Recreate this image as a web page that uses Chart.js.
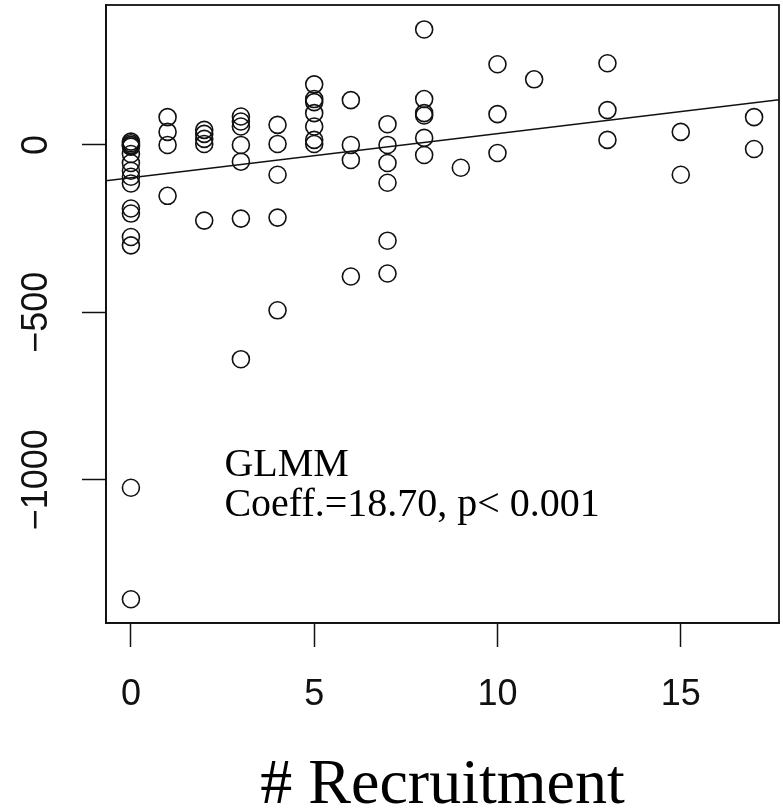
<!DOCTYPE html>
<html>
<head>
<meta charset="utf-8">
<script src="https://cdn.jsdelivr.net/npm/chart.js@4.4.0/dist/chart.umd.min.js"></script>
<style>
  html, body { margin: 0; padding: 0; background: #fff; }
</style>
</head>
<body>
<canvas id="recruitChart" width="783" height="810"></canvas>
<script>
// Recruitment count vs. response, open circles + fitted line (R base-graphics look)

const recruitX = [
  0, 0, 0, 0, 0, 0, 0, 0, 0, 0, 0, 0, 0, 0, 0, 0,
  1, 1, 1, 1,
  2, 2, 2, 2, 2,
  3, 3, 3, 3, 3, 3, 3,
  4, 4, 4, 4, 4,
  5, 5, 5, 5, 5, 5, 5,
  6, 6, 6, 6,
  7, 7, 7, 7, 7, 7,
  8, 8, 8, 8, 8, 8,
  9,
  10, 10, 10,
  11,
  13, 13, 13,
  15, 15,
  17, 17
];

const responseY = [
  10, 5, 0, -5, -27, -54, -77, -95, -115, -190, -205, -275, -300, -1024, -1357, 0,
  83, 39, 0, -152,
  45, 33, 18, 3, -226,
  85, 70, 55, 0, -50, -220, -640,
  60, 3, -89, -217, -494,
  181, 137, 128, 95, 55, 15, 3,
  134, 0, -45, -393,
  62, 0, -54, -113, -286, -384,
  345, 137, 95, 88, 21, -30,
  -68,
  241, 92, -24,
  196,
  244, 104, 15,
  39, -89,
  83, -12
];

// fitted line, end points at the plot edges
const fitX = [-0.68, 17.68];
const fitY = [-107, 135];

const xTicks = [0, 5, 10, 15];
const yTicks = [-1000, -500, 0];

const noteLines = ['GLMM', 'Coeff.=18.70, p< 0.001'];
const notePos = { x: 2.55, y: -990 };

const points = recruitX.map((x, i) => ({ x, y: responseY[i] }));

// box round the plot region + the GLMM note
const framePlugin = {
  id: 'rFrame',
  afterDatasetsDraw(chart) {
    const { ctx, scales: { x, y } } = chart;
    ctx.save();
    ctx.fillStyle = '#000';
    ctx.font = '40px "Liberation Serif", "Times New Roman", serif';
    ctx.textBaseline = 'alphabetic';
    const nx = x.getPixelForValue(notePos.x);
    const ny = y.getPixelForValue(notePos.y);
    noteLines.forEach((t, i) => ctx.fillText(t, nx, ny + i * 40));
    ctx.restore();
  },
  afterDraw(chart) {
    const { ctx, chartArea: a } = chart;
    ctx.save();
    ctx.strokeStyle = '#111';
    ctx.lineWidth = 1.8;
    ctx.strokeRect(a.left, a.top, a.right - a.left, a.bottom - a.top);
    ctx.restore();
  }
};

const tickFont = { family: '"Liberation Sans", Arial, sans-serif', size: 36 };

new Chart(document.getElementById('recruitChart'), {
  data: {
    datasets: [
      {
        type: 'scatter',
        data: points,
        pointRadius: 8.5,
        pointHoverRadius: 8.5,
        pointBorderWidth: 1.6,
        pointBackgroundColor: 'rgba(0,0,0,0)',
        pointBorderColor: '#111',
        showLine: false
      },
      {
        type: 'line',
        data: fitX.map((x, i) => ({ x, y: fitY[i] })),
        borderColor: '#111',
        borderWidth: 1.6,
        pointRadius: 0,
        tension: 0
      }
    ]
  },
  options: {
    responsive: false,
    animation: false,
    layout: { autoPadding: false, padding: { top: 5, right: 4, left: 0, bottom: 0 } },
    plugins: {
      legend: { display: false },
      tooltip: { enabled: false }
    },
    scales: {
      x: {
        type: 'linear',
        min: -0.68,
        max: 17.68,
        afterBuildTicks: s => { s.ticks = xTicks.map(v => ({ value: v })); },
        afterFit: s => {
          s.height = 187;
          s.paddingLeft = 0;
          s.paddingRight = 0;
        },
        grid: { drawOnChartArea: false, drawTicks: true, tickLength: 24, tickColor: '#111', tickWidth: 1.5 },
        border: { display: true, color: '#111', width: 1.8 },
        ticks: { font: tickFont, color: '#111', padding: 26, maxRotation: 0 },
        title: {
          display: true,
          text: '# Recruitment',
          color: '#000',
          font: { family: '"Liberation Serif", "Times New Roman", serif', size: 64, lineHeight: 0.75 },
          padding: 0
        }
      },
      y: {
        type: 'linear',
        min: -1428,
        max: 418,
        afterBuildTicks: s => { s.ticks = yTicks.map(v => ({ value: v })); },
        afterFit: s => {
          s.width = 106;
          s.paddingTop = 0;
          s.paddingBottom = 0;
        },
        grid: { drawOnChartArea: false, drawTicks: true, tickLength: 24, tickColor: '#111', tickWidth: 1.5 },
        border: { display: true, color: '#111', width: 1.8 },
        ticks: {
          font: tickFont,
          color: '#111',
          minRotation: 90,
          maxRotation: 90,
          crossAlign: 'center',
          padding: -6,
          callback: v => String(v).replace('-', '\u2212')
        }
      }
    }
  },
  plugins: [framePlugin]
});
</script>
</body>
</html>
